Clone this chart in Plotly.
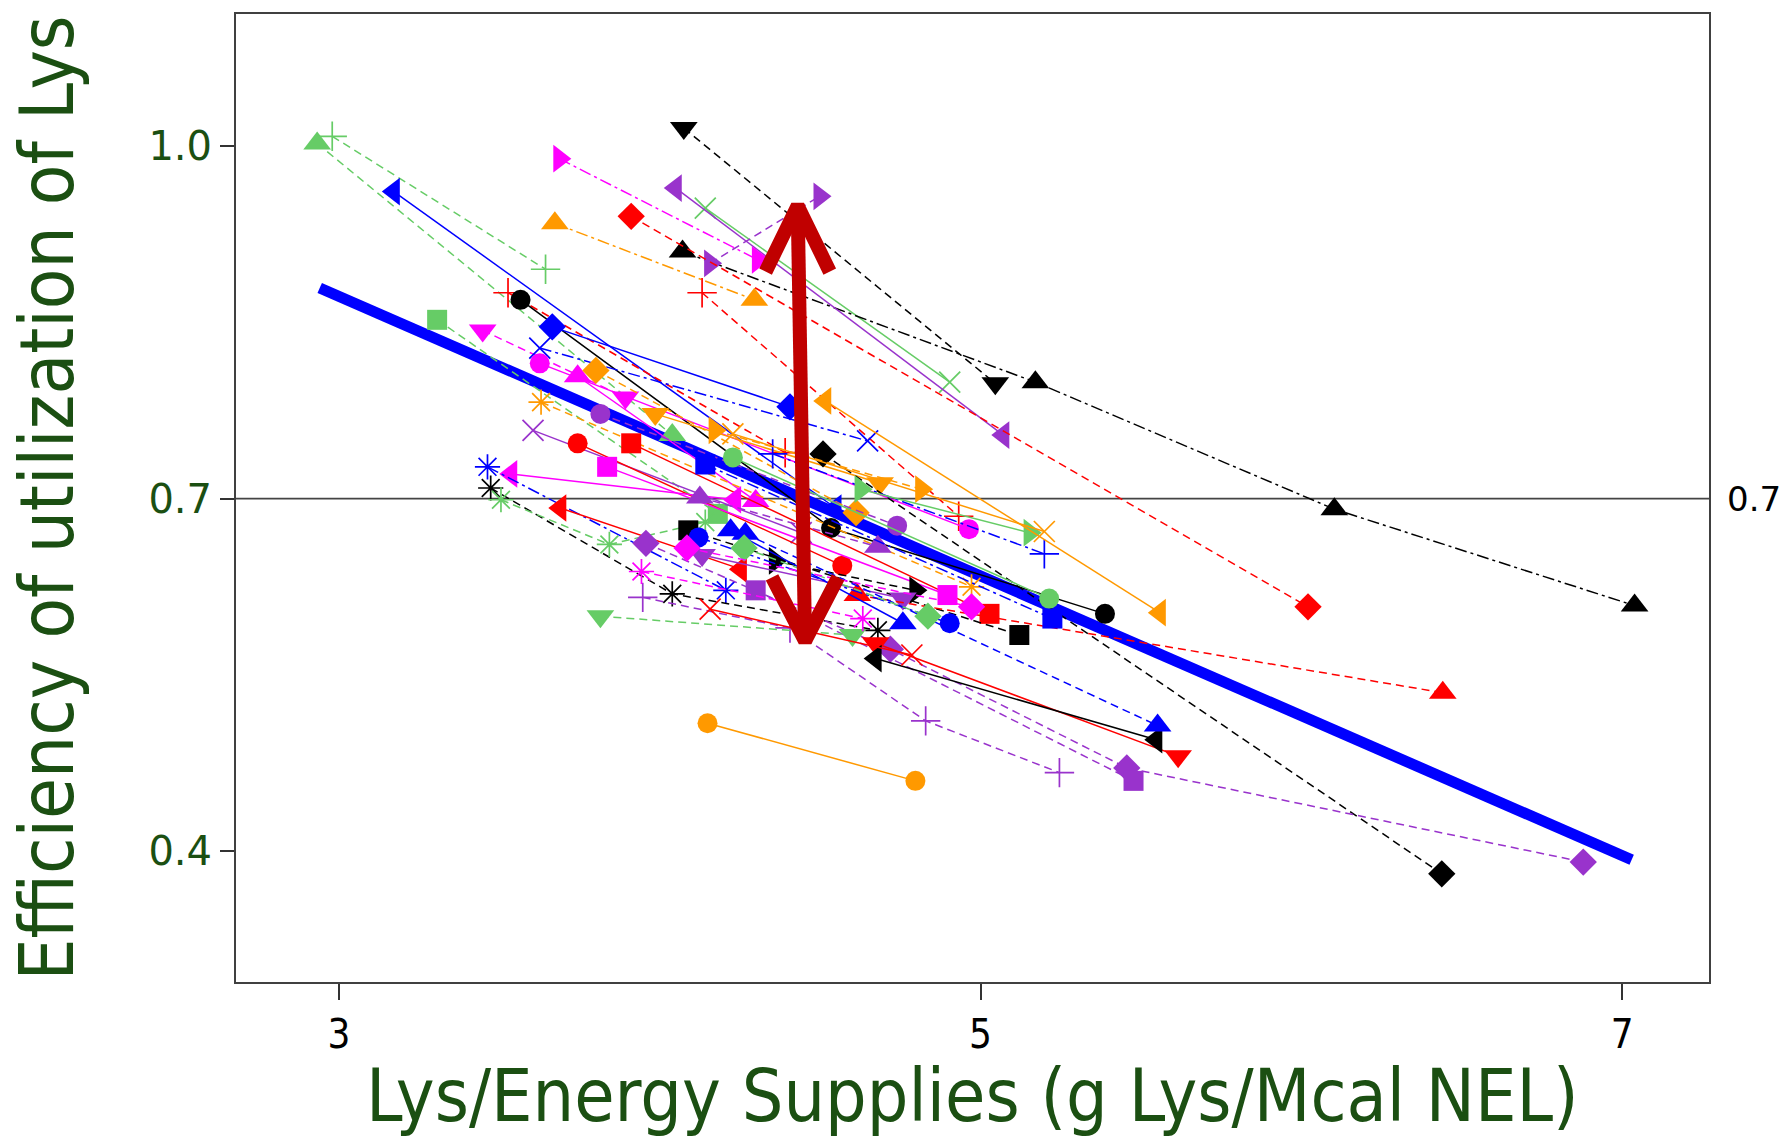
import plotly.graph_objects as go

# ---------------- data ----------------
study_x = [
    [2.932, 4.039], [2.979, 3.644], [3.171, 4.548], [4.142, 4.904], [4.075, 5.046],
    [4.071, 5.171, 6.103, 7.039], [4.050, 5.071], [4.157, 4.498], [3.687, 4.306], [3.911, 6.021],
    [3.673, 4.295], [4.132, 4.932], [3.527, 4.391], [3.566, 4.534, 5.388], [3.306, 4.181],
    [3.448, 3.893], [3.665, 4.406], [3.626, 4.648], [3.626, 4.964], [3.744, 4.299],
    [3.801, 4.612], [3.630, 4.972], [3.605, 4.441], [3.815, 4.740], [3.986, 4.687],
    [3.744, 4.569], [3.911, 5.028], [3.836, 4.897], [3.537, 4.235], [3.463, 4.206],
    [3.473, 4.039, 4.680], [3.505, 3.843, 4.142], [3.690, 4.253], [4.089, 5.121], [4.509, 6.438],
    [4.359, 4.797], [4.125, 4.680], [3.957, 4.719, 5.456, 6.879], [4.132, 4.758], [4.299, 5.477],
    [3.947, 4.406, 4.829, 5.246], [4.616, 6.441], [4.673, 5.616], [4.673, 5.548], [4.221, 4.758],
    [4.267, 5.552], [4.121, 4.904], [4.142, 5.224], [4.352, 5.199], [4.626, 5.153],
    [4.228, 5.214], [4.263, 4.836], [3.815, 4.601], [4.149, 4.797], [4.516, 5.559],
    [4.171, 4.815], [4.228, 5.199], [4.157, 4.786], [4.085, 4.972], [3.943, 4.633],
]
study_y = [
    [1.002, 0.754], [1.008, 0.895], [0.961, 0.692], [0.947, 0.799], [1.015, 0.798],
    [0.910, 0.799, 0.691, 0.609], [0.964, 0.754], [0.900, 0.957], [0.989, 0.903], [0.940, 0.608],
    [0.934, 0.869], [0.875, 0.685], [0.875, 0.739], [0.869, 0.675, 0.602], [0.852, 0.687],
    [0.843, 0.786], [0.846, 0.778], [0.828, 0.749], [0.815, 0.674], [0.804, 0.698],
    [0.809, 0.688], [0.782, 0.625], [0.758, 0.671], [0.772, 0.677], [0.772, 0.713],
    [0.747, 0.643], [0.747, 0.602], [0.727, 0.618], [0.721, 0.699], [0.727, 0.622],
    [0.709, 0.619, 0.588], [0.699, 0.661, 0.680], [0.692, 0.640], [0.673, 0.584], [0.738, 0.381],
    [0.647, 0.622], [0.701, 0.659], [0.662, 0.572, 0.471, 0.391], [0.652, 0.615], [0.622, 0.460],
    [0.616, 0.590, 0.511, 0.467], [0.618, 0.535], [0.577, 0.481], [0.564, 0.495], [0.673, 0.594],
    [0.670, 0.507], [0.667, 0.594], [0.729, 0.598], [0.738, 0.653], [0.708, 0.671],
    [0.735, 0.615], [0.658, 0.600], [0.600, 0.584], [0.509, 0.460], [0.783, 0.603],
    [0.758, 0.708], [0.755, 0.672], [0.606, 0.567], [0.658, 0.608], [0.638, 0.598],
]

# overall regression line (start / end)
reg_x = [2.94, 7.03]
reg_y = [0.879, 0.393]

# double-headed red arrow
arrow_shaft_x = [4.430, 4.453]
arrow_shaft_y = [0.949, 0.579]
arrow_top_x = [4.330, 4.430, 4.530]
arrow_top_y = [0.893, 0.949, 0.893]
arrow_bot_x = [4.350, 4.453, 4.556]
arrow_bot_y = [0.633, 0.579, 0.633]

ref_level = 0.7
x_ticks = [3, 5, 7]
y_ticks = [0.4, 0.7, 1.0]
y_ticktext = ["0.4", "0.7", "1.0"]

# ---------------- styles ----------------
GR, MG, OR, PU, RD, BL, BK = "#66cc66", "#ff00ff", "#ff9900", "#9933cc", "#ff0000", "#0000ff", "#000000"
study_color = [
    GR, GR, BL, GR, BK, BK, PU, PU, MG, RD,
    OR, RD, RD, BK, GR, MG, BL, BL, MG, MG,
    OR, OR, PU, PU, OR, RD, RD, MG, MG, BL,
    BK, GR, RD, BK, BK, BK, PU, PU, PU, PU,
    PU, RD, RD, BK, BL, BL, BL, BL, BL, GR,
    GR, GR, GR, OR, OR, OR, OR, RD, MG, MG,
]
study_symbol = [
    "triangle-up", "cross-thin", "triangle-left", "x-thin", "triangle-down",
    "triangle-up", "triangle-left", "triangle-right", "triangle-right", "diamond",
    "triangle-up", "cross-thin", "cross-thin", "circle", "square",
    "triangle-down", "diamond", "x-thin", "circle", "triangle-up",
    "diamond", "asterisk", "x-thin", "circle", "triangle-down",
    "circle", "square", "square", "triangle-left", "asterisk",
    "asterisk", "asterisk", "triangle-left", "square", "diamond",
    "triangle-right", "triangle-up", "diamond", "triangle-down", "square",
    "cross-thin", "triangle-up", "triangle-down", "triangle-left", "triangle-up",
    "triangle-up", "circle", "square", "cross-thin", "triangle-right",
    "circle", "diamond", "triangle-down", "circle", "triangle-left",
    "triangle-right", "x-thin", "x-thin", "diamond", "asterisk",
]
DS, DD, SO = "8px,5px", "12px,4px,3px,4px", "solid"
study_dash = [
    DS, DS, SO, SO, DS, DD, SO, DS, DD, DS,
    DD, DS, DS, SO, DS, DS, SO, DD, SO, SO,
    DS, DS, SO, DS, SO, SO, SO, SO, SO, DD,
    DS, DS, SO, DS, DS, DS, DS, DS, SO, DS,
    DS, DS, SO, SO, SO, DS, DD, DD, DD, SO,
    SO, DS, DS, SO, SO, DS, SO, SO, DS, DS,
]

TITLE_GREEN = "#1b4f12"
THIN = {"cross-thin", "x-thin", "asterisk"}

fig = go.Figure()

# regression line
fig.add_trace(go.Scatter(x=reg_x, y=reg_y, mode="lines",
                         line=dict(color="#0000ff", width=11), hoverinfo="skip"))

# study lines
for xs, ys, col, sym, dash in zip(study_x, study_y, study_color, study_symbol, study_dash):
    if sym in THIN:
        marker = dict(symbol=sym, size=21, color=col, line=dict(color=col, width=1.7))
    else:
        sz = 24 if sym.startswith("triangle") else (21 if sym == "diamond" else 20)
        marker = dict(symbol=sym, size=sz, color=col, line=dict(width=0))
    fig.add_trace(go.Scatter(x=xs, y=ys, mode="lines+markers",
                             line=dict(color=col, width=1.5, dash=dash),
                             marker=marker))

# arrow
ARROW = "#c00000"
for ax_, ay_ in [(arrow_shaft_x, arrow_shaft_y), (arrow_top_x, arrow_top_y), (arrow_bot_x, arrow_bot_y)]:
    fig.add_trace(go.Scatter(x=ax_, y=ay_, mode="lines",
                             line=dict(color=ARROW, width=14), hoverinfo="skip"))

# reference line at 0.7
fig.add_shape(type="line", xref="paper", x0=0, x1=1, yref="y", y0=ref_level, y1=ref_level,
              line=dict(color="#444444", width=1.8), layer="below")

fig.add_annotation(text="0.7", xref="paper", x=1.011, yref="y", y=ref_level,
                   xanchor="left", yanchor="middle", showarrow=False,
                   font=dict(family="DejaVu Sans", size=34, color="black"))

fig.add_annotation(text="Lys/Energy Supplies (g Lys/Mcal NEL)", xref="paper", x=0.5,
                   yref="paper", y=-0.117, xanchor="center", yanchor="middle", showarrow=False,
                   font=dict(family="DejaVu Sans Condensed", size=73, color=TITLE_GREEN))

fig.add_annotation(text="Efficiency of utilization of Lys", xref="paper", x=-0.128,
                   yref="paper", y=0.5, xanchor="center", yanchor="middle", showarrow=False,
                   textangle=-90,
                   font=dict(family="DejaVu Sans Condensed", size=74, color=TITLE_GREEN))

fig.update_layout(
    width=1789, height=1137,
    margin=dict(l=236, r=80, t=14, b=155),
    paper_bgcolor="white", plot_bgcolor="white",
    showlegend=False,
    xaxis=dict(range=[2.679, 7.271], tickvals=x_ticks, ticks="outside", ticklen=16,
               tickwidth=1.5, tickcolor="#333333", showgrid=False, zeroline=False,
               showline=True, mirror=True, linecolor="#404040", linewidth=2,
               tickfont=dict(family="DejaVu Sans Condensed", size=40, color="black")),
    yaxis=dict(range=[0.289, 1.112], tickvals=y_ticks, ticktext=y_ticktext, ticks="outside",
               ticklen=14, tickwidth=1.5, tickcolor="#333333", showgrid=False, zeroline=False,
               showline=True, mirror=True, linecolor="#404040", linewidth=2,
               tickfont=dict(family="DejaVu Sans", size=40, color=TITLE_GREEN)),
)

fig.write_html("out.html")
